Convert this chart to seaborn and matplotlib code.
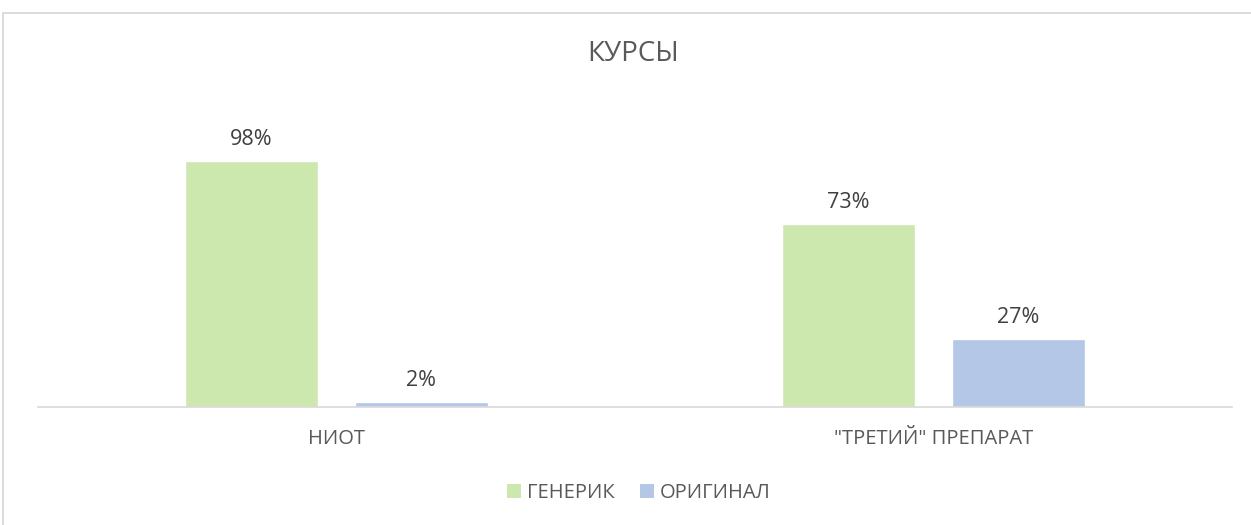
import matplotlib
matplotlib.use("Agg")
import matplotlib.pyplot as plt
import seaborn as sns
import pandas as pd
from matplotlib.patches import Rectangle, Patch

categories = ['НИОТ', '"ТРЕТИЙ" ПРЕПАРАТ']
series = ['ГЕНЕРИК', 'ОРИГИНАЛ']
generic = [98, 73]
original = [2, 27]
title = 'КУРСЫ'

colors = ['#CDE8AF', '#B4C7E7']

df = pd.DataFrame({
    'cat': categories * 2,
    'series': [series[0]] * 2 + [series[1]] * 2,
    'value': generic + original,
})

sns.set_theme(style='white')
plt.rcParams['font.family'] = ['Open Sans', 'DejaVu Sans']

W, H = 1251, 525
fig = plt.figure(figsize=(W / 100, H / 100), dpi=100)
ax_left, ax_right = 38 / W, 1232 / W
ax_bottom, ax_top = (H - 407) / H, (H - 105.8) / H
ax = fig.add_axes([ax_left, ax_bottom, ax_right - ax_left, ax_top - ax_bottom])

sns.barplot(data=df, x='cat', y='value', hue='series', order=categories,
            hue_order=series, palette=colors, width=0.5695, gap=0.212,
            saturation=1, ax=ax, legend=False)

ax.set_ylim(0, 120)
ax.set_xlim(-0.5, 1.5)
for c in ax.containers:
    ax.bar_label(c, fmt='%.0f%%', padding=8, color='#404040', fontsize=15.5)

for s in ['top', 'right', 'left']:
    ax.spines[s].set_visible(False)
ax.spines['bottom'].set_color('#D9D9D9')
ax.spines['bottom'].set_linewidth(1.2)
ax.set_yticks([])
ax.set_xlabel('')
ax.set_ylabel('')
ax.tick_params(axis='x', length=0, pad=16, labelsize=14.5, labelcolor='#595959')

fig.text(633 / W, 1 - 54 / H, title, ha='center', va='center',
         fontsize=20, color='#595959')

handles = [Patch(facecolor=colors[i], edgecolor='none', label=series[i]) for i in range(2)]
fig.legend(handles=handles, loc='center', bbox_to_anchor=(639 / W, 1 - 493 / H),
           ncol=2, frameon=False, fontsize=14.5, labelcolor='#595959',
           handlelength=0.7, handleheight=0.7, handletextpad=0.3,
           columnspacing=1.25)

fig.patches.append(Rectangle((3 / W, -0.1), 1.2, (H - 13) / H + 0.1,
                             transform=fig.transFigure, fill=False,
                             edgecolor='#D9D9D9', linewidth=1.3))

fig.savefig('out.png', dpi=100, facecolor='white')
